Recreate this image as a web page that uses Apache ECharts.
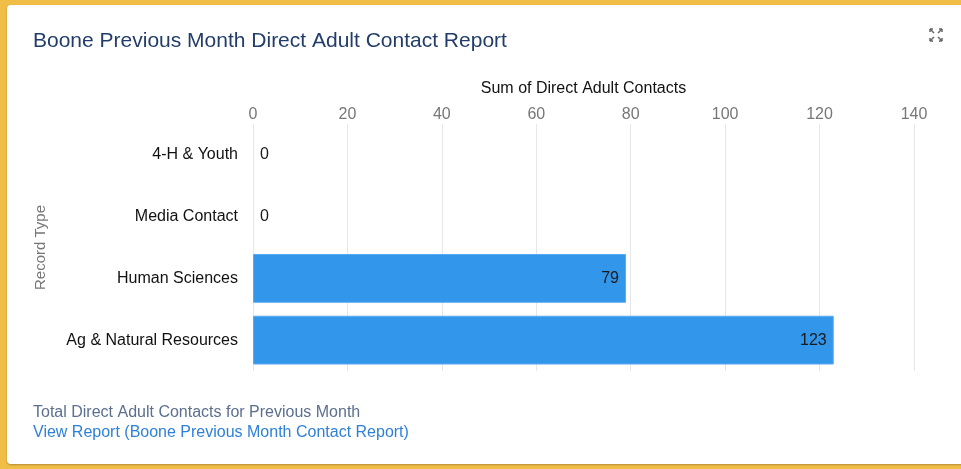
<!DOCTYPE html>
<html>
<head>
<meta charset="utf-8">
<script src="https://cdn.jsdelivr.net/npm/echarts@6/dist/echarts.min.js"></script>
<style>
  html, body { margin: 0; padding: 0; width: 961px; height: 469px; overflow: hidden; background: #f0bd47; }
  #card { position: absolute; left: 7px; top: 5px; width: 970px; height: 459px; background: #fff; border-radius: 4px; box-shadow: 0 1px 2px rgba(0,0,0,0.25); }
  #container { position: absolute; left: 0; top: 0; width: 961px; height: 469px; }
</style>
</head>
<body>
<div id="card"></div>
<div id="container"></div>
<script>
var dom = document.getElementById("container");
var myChart = echarts.init(dom);
var option = null;

var categories = ["4-H & Youth", "Media Contact", "Human Sciences", "Ag & Natural Resources"];
var contacts = [0, 0, 79, 123];
var xTicks = { min: 0, max: 140, interval: 20 };

var font = "Arial, 'Liberation Sans', sans-serif";

// zero bars get their label outside, others inside the end
var barData = contacts.map(function (v) {
  return {
    value: v,
    itemStyle: { borderWidth: v > 0 ? 1 : 0 },
    label: { position: v > 0 ? "insideRight" : "right" }
  };
});

// little "expand" icon in the corner
function arrow(x1, y1, x2, y2) {
  return {
    type: "polyline",
    shape: { points: [[x1, y1], [x2, y2]] },
    style: { stroke: "#666", lineWidth: 1.5 }
  };
}
var ix = 936, iy = 35;
var icon = [
  arrow(ix - 2, iy - 2, ix - 6, iy - 6), arrow(ix - 6, iy - 6, ix - 6, iy - 3), arrow(ix - 6, iy - 6, ix - 3, iy - 6),
  arrow(ix + 2, iy - 2, ix + 6, iy - 6), arrow(ix + 6, iy - 6, ix + 6, iy - 3), arrow(ix + 6, iy - 6, ix + 3, iy - 6),
  arrow(ix - 2, iy + 2, ix - 6, iy + 6), arrow(ix - 6, iy + 6, ix - 6, iy + 3), arrow(ix - 6, iy + 6, ix - 3, iy + 6),
  arrow(ix + 2, iy + 2, ix + 6, iy + 6), arrow(ix + 6, iy + 6, ix + 6, iy + 3), arrow(ix + 6, iy + 6, ix + 3, iy + 6)
];

option = {
  backgroundColor: "transparent",
  animation: false,
  title: {
    text: "Boone Previous Month Direct Adult Contact Report",
    left: 28,
    top: 26,
    textStyle: { fontFamily: font, fontSize: 21, fontWeight: "normal", color: "#233d6b" }
  },
  grid: { left: 253, right: 47, top: 124, bottom: 98 },
  xAxis: {
    type: "value",
    position: "top",
    min: xTicks.min,
    max: xTicks.max,
    interval: xTicks.interval,
    name: "Sum of Direct Adult Contacts",
    nameLocation: "middle",
    nameGap: 27,
    nameTextStyle: { fontFamily: font, fontSize: 16, color: "#111" },
    axisLine: { show: false },
    axisTick: { show: false },
    axisLabel: { margin: 1, fontFamily: font, fontSize: 16, color: "#777" },
    splitLine: { show: true, lineStyle: { color: "#e4e8ee", width: 1 } }
  },
  yAxis: {
    type: "category",
    inverse: true,
    data: categories,
    name: "Record Type",
    nameLocation: "middle",
    nameGap: 205,
    nameTextStyle: { fontFamily: font, fontSize: 15, color: "#777" },
    axisLine: { show: false },
    axisTick: { show: false },
    axisLabel: { margin: 15, fontFamily: font, fontSize: 16, color: "#111" }
  },
  series: [
    {
      name: "Sum of Direct Adult Contacts",
      type: "bar",
      barWidth: "79%",
      data: barData,
      itemStyle: { color: "#3296ea", borderColor: "#5aaaf0" },
      label: {
        show: true,
        distance: 7,
        fontFamily: font,
        fontSize: 16,
        color: "#1a1a1a"
      }
    }
  ],
  graphic: [
    {
      type: "text",
      left: 33,
      top: 405,
      style: { text: "Total Direct Adult Contacts for Previous Month", font: "16px " + font, fill: "#5b6f8e" }
    },
    {
      type: "text",
      left: 33,
      top: 425,
      style: { text: "View Report (Boone Previous Month Contact Report)", font: "16px " + font, fill: "#2f80d8" }
    },
    { type: "group", children: icon }
  ]
};

if (option && typeof option === "object") {
  myChart.setOption(option, true);
}
</script>
</body>
</html>
